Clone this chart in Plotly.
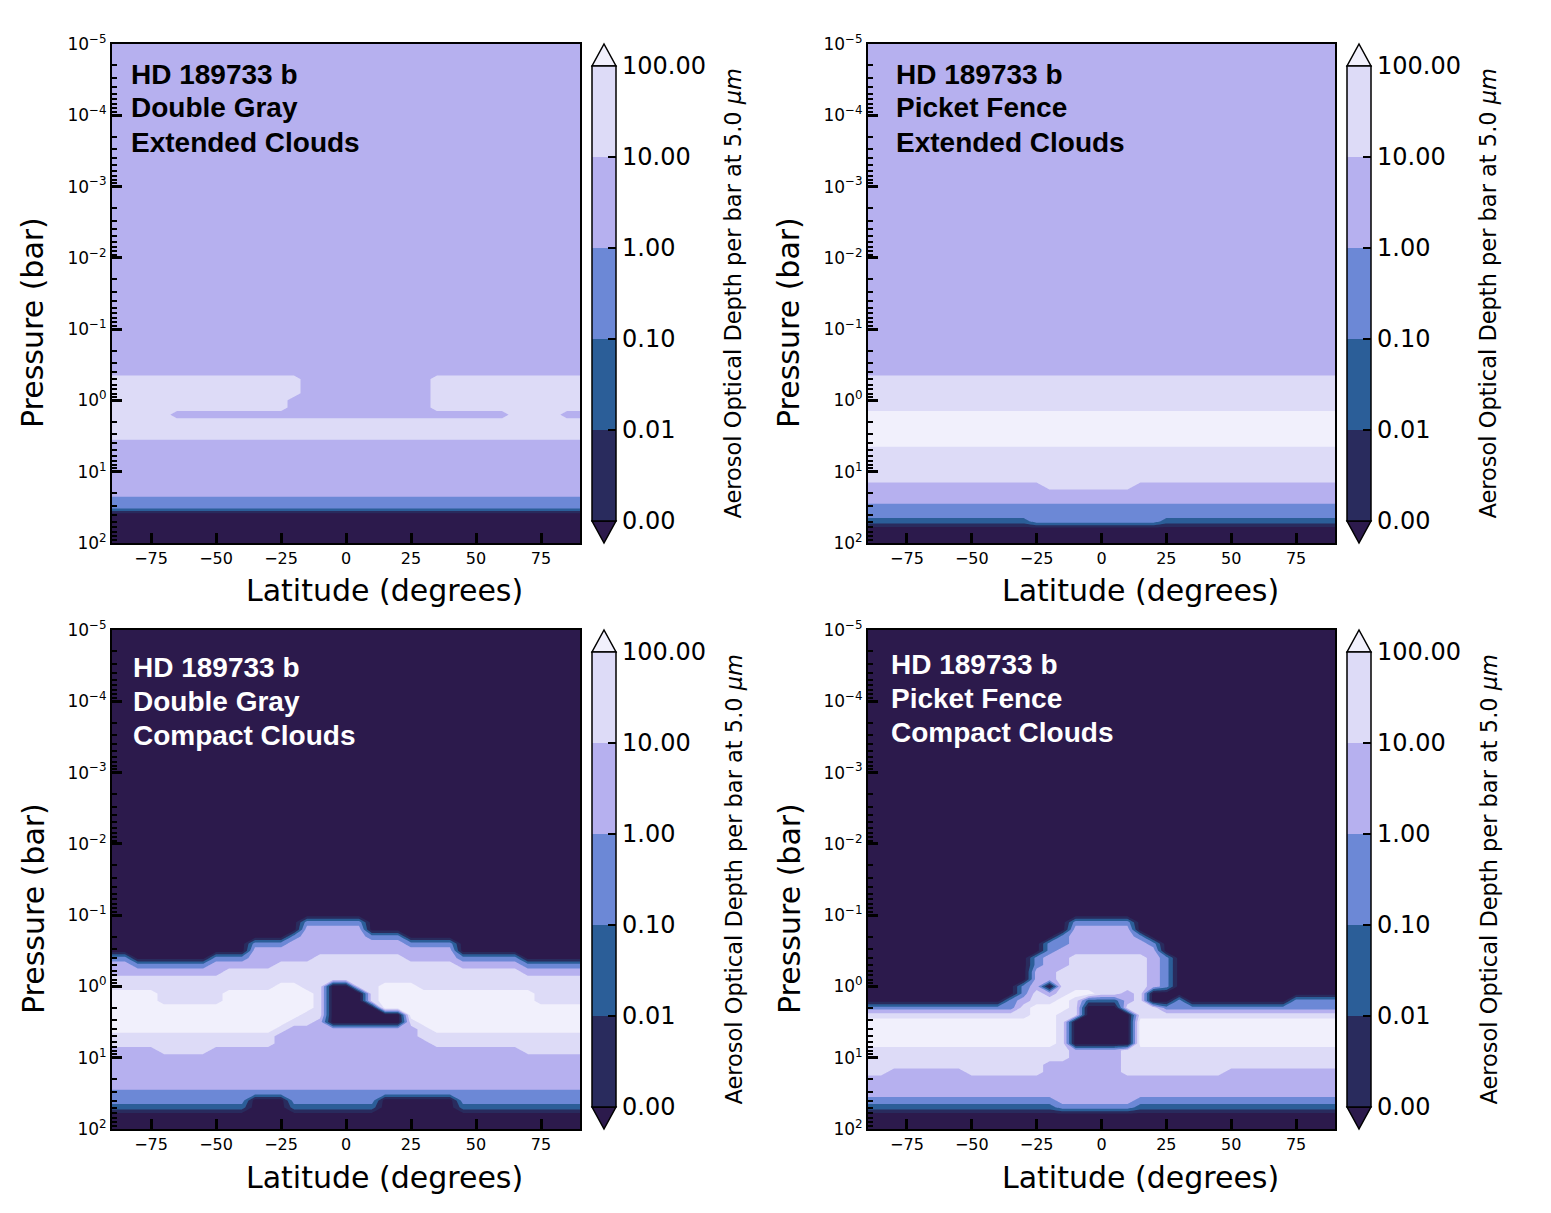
import plotly.graph_objects as go

# latitude columns (degrees) and pressure rows (log10 of bar) of the cloud grids
LAT = [-90, -85, -80, -75, -70, -65, -60, -55, -50, -45, -40, -35, -30, -25,
       -20, -15, -10, -5, 0, 5, 10, 15, 20, 25, 30, 35, 40, 45, 50, 55, 60,
       65, 70, 75, 80, 85, 90]
LOG_P = [-5.0, -4.0, -3.0, -2.0, -1.5, -1.4, -1.3, -1.2, -1.1, -1.0, -0.9,
         -0.8, -0.7, -0.6, -0.5, -0.4, -0.3, -0.2, -0.1, 0.0, 0.1, 0.2, 0.3,
         0.4, 0.5, 0.6, 0.7, 0.8, 0.9, 1.0, 1.1, 1.2, 1.3, 1.4, 1.5, 1.6, 1.7,
         1.8, 1.9, 2.0]

# each digit in a grid is the colour band;
# estimated log10 optical depth per bar for each band
BAND_LOG_TAU = [-3.5, -2.5, -1.5, -0.5, 0.5, 1.5, 2.5]
BAND_COLORS = ["#2c1a4c", "#292b5d", "#2b5e98", "#6c88d6",
               "#b6b0ef", "#dddbf7", "#f1f0fc"]
CBAR_LEVELS = [-3, -2, -1, 0, 1, 2]
CBAR_LABELS = ["0.00", "0.01", "0.10", "1.00", "10.00", "100.00"]
CBAR_TITLE = "Aerosol Optical Depth per bar at 5.0 <i>μm</i>"
P_TICKS = [1e-5, 1e-4, 1e-3, 1e-2, 1e-1, 1e0, 1e1, 1e2]
P_TICK_TEXT = ["10<sup>−5</sup>", "10<sup>−4</sup>", "10<sup>−3</sup>",
               "10<sup>−2</sup>", "10<sup>−1</sup>", "10<sup>0</sup>",
               "10<sup>1</sup>", "10<sup>2</sup>"]
LAT_TICKS = [-75, -50, -25, 0, 25, 50, 75]

# rows from 1e-5 bar (top) down to 1e2 bar, columns -90 .. 90 deg
DG_EXTENDED = [
    "444444 444444 444444 4 444444 444444 444444",  # -5
    "444444 444444 444444 4 444444 444444 444444",  # -4
    "444444 444444 444444 4 444444 444444 444444",  # -3
    "444444 444444 444444 4 444444 444444 444444",  # -2
    "444444 444444 444444 4 444444 444444 444444",  # -1.5
    "444444 444444 444444 4 444444 444444 444444",
    "444444 444444 444444 4 444444 444444 444444",
    "444444 444444 444444 4 444444 444444 444444",
    "444444 444444 444444 4 444444 444444 444444",
    "444444 444444 444444 4 444444 444444 444444",  # -1.0
    "444444 444444 444444 4 444444 444444 444444",
    "444444 444444 444444 4 444444 444444 444444",
    "444444 444444 444444 4 444444 444444 444444",
    "444444 444444 444444 4 444444 444444 444444",
    "444444 444444 444444 4 444444 444444 444444",
    "444444 444444 444444 4 444444 444444 444444",  # -0.4
    "555555 555555 555444 4 444444 555555 555555",
    "555555 555555 555444 4 444444 555555 555555",
    "555555 555555 555444 4 444444 555555 555555",
    "555555 555555 554444 4 444444 555555 555555",  # 0.0
    "555555 555555 554444 4 444444 555555 555555",
    "555554 444444 444444 4 444444 444444 555544",
    "555555 555555 555555 5 555555 555555 555555",
    "555555 555555 555555 5 555555 555555 555555",
    "555555 555555 555555 5 555555 555555 555555",  # 0.5
    "444444 444444 444444 4 444444 444444 444444",
    "444444 444444 444444 4 444444 444444 444444",
    "444444 444444 444444 4 444444 444444 444444",
    "444444 444444 444444 4 444444 444444 444444",
    "444444 444444 444444 4 444444 444444 444444",  # 1.0
    "444444 444444 444444 4 444444 444444 444444",
    "444444 444444 444444 4 444444 444444 444444",
    "444444 444444 444444 4 444444 444444 444444",
    "333333 333333 333333 3 333333 333333 333333",
    "333333 333333 333333 3 333333 333333 333333",  # 1.5
    "000000 000000 000000 0 000000 000000 000000",
    "000000 000000 000000 0 000000 000000 000000",
    "000000 000000 000000 0 000000 000000 000000",
    "000000 000000 000000 0 000000 000000 000000",
    "000000 000000 000000 0 000000 000000 000000",  # 2.0
]

PF_EXTENDED = [
    "444444 444444 444444 4 444444 444444 444444",  # -5
    "444444 444444 444444 4 444444 444444 444444",
    "444444 444444 444444 4 444444 444444 444444",
    "444444 444444 444444 4 444444 444444 444444",
    "444444 444444 444444 4 444444 444444 444444",  # -1.5
    "444444 444444 444444 4 444444 444444 444444",
    "444444 444444 444444 4 444444 444444 444444",
    "444444 444444 444444 4 444444 444444 444444",
    "444444 444444 444444 4 444444 444444 444444",
    "444444 444444 444444 4 444444 444444 444444",  # -1.0
    "444444 444444 444444 4 444444 444444 444444",
    "444444 444444 444444 4 444444 444444 444444",
    "444444 444444 444444 4 444444 444444 444444",
    "444444 444444 444444 4 444444 444444 444444",
    "444444 444444 444444 4 444444 444444 444444",
    "444444 444444 444444 4 444444 444444 444444",  # -0.4
    "555555 555555 555555 5 555555 555555 555555",
    "555555 555555 555555 5 555555 555555 555555",
    "555555 555555 555555 5 555555 555555 555555",
    "555555 555555 555555 5 555555 555555 555555",  # 0.0
    "555555 555555 555555 5 555555 555555 555555",
    "666666 666666 666666 6 666666 666666 666666",
    "666666 666666 666666 6 666666 666666 666666",
    "666666 666666 666666 6 666666 666666 666666",
    "666666 666666 666666 6 666666 666666 666666",  # 0.5
    "666666 666666 666666 6 666666 666666 666666",
    "555555 555555 555555 5 555555 555555 555555",
    "555555 555555 555555 5 555555 555555 555555",
    "555555 555555 555555 5 555555 555555 555555",
    "555555 555555 555555 5 555555 555555 555555",  # 1.0
    "555555 555555 555555 5 555555 555555 555555",
    "444444 444444 445555 5 554444 444444 444444",
    "444444 444444 444444 4 444444 444444 444444",
    "444444 444444 444444 4 444444 444444 444444",
    "333333 333333 333333 3 333333 333333 333333",  # 1.5
    "333333 333333 333333 3 333333 333333 333333",
    "222222 222222 233333 3 333322 222222 222222",
    "000000 000000 000000 0 000000 000000 000000",
    "000000 000000 000000 0 000000 000000 000000",
    "000000 000000 000000 0 000000 000000 000000",  # 2.0
]

DG_COMPACT = [
    "000000 000000 000000 0 000000 000000 000000",  # -5
    "000000 000000 000000 0 000000 000000 000000",
    "000000 000000 000000 0 000000 000000 000000",
    "000000 000000 000000 0 000000 000000 000000",
    "000000 000000 000000 0 000000 000000 000000",  # -1.5
    "000000 000000 000000 0 000000 000000 000000",
    "000000 000000 000000 0 000000 000000 000000",
    "000000 000000 000000 0 000000 000000 000000",
    "000000 000000 000000 0 000000 000000 000000",
    "000000 000000 000000 0 000000 000000 000000",  # -1.0
    "000000 000000 000333 3 300000 000000 000000",
    "000000 000000 000444 4 400000 000000 000000",
    "000000 000000 003444 4 433300 000000 000000",
    "000000 000003 334444 4 444433 330000 000000",
    "000000 000004 444444 4 444444 440000 000000",
    "330000 003334 444455 5 555544 443333 300000",  # -0.4
    "443333 334444 455555 5 555555 554444 433333",
    "444444 444555 555555 5 555555 555555 544444",
    "555555 555555 555555 5 555555 555555 555555",
    "555555 555555 566550 0 556665 555555 555555",  # 0.0
    "666655 555666 666650 0 056666 666666 665555",
    "666655 555666 666650 0 056666 666666 665555",
    "666666 666666 666650 0 006666 666666 666666",
    "666666 666666 666550 0 000066 666666 666666",
    "666666 666666 665540 0 000056 666666 666666",  # 0.5
    "666666 666666 654444 4 444445 666666 666666",
    "555555 555555 544444 4 444445 555555 555555",
    "555555 555555 544444 4 444444 555555 555555",
    "444455 554444 444444 4 444444 444444 455555",
    "444444 444444 444444 4 444444 444444 444444",  # 1.0
    "444444 444444 444444 4 444444 444444 444444",
    "444444 444444 444444 4 444444 444444 444444",
    "444444 444444 444444 4 444444 444444 444444",
    "444444 444444 444444 4 444444 444444 444444",
    "333333 333333 333333 3 333333 333333 333333",  # 1.5
    "333333 333330 003333 3 330000 003333 333333",
    "222222 222220 002222 2 220000 002222 222222",
    "000000 000000 000000 0 000000 000000 000000",
    "000000 000000 000000 0 000000 000000 000000",
    "000000 000000 000000 0 000000 000000 000000",  # 2.0
]

PF_COMPACT = [
    "000000 000000 000000 0 000000 000000 000000",  # -5
    "000000 000000 000000 0 000000 000000 000000",
    "000000 000000 000000 0 000000 000000 000000",
    "000000 000000 000000 0 000000 000000 000000",
    "000000 000000 000000 0 000000 000000 000000",  # -1.5
    "000000 000000 000000 0 000000 000000 000000",
    "000000 000000 000000 0 000000 000000 000000",
    "000000 000000 000000 0 000000 000000 000000",
    "000000 000000 000000 0 000000 000000 000000",
    "000000 000000 000000 0 000000 000000 000000",  # -1.0
    "000000 000000 000033 3 330000 000000 000000",
    "000000 000000 000044 4 440000 000000 000000",
    "000000 000000 000344 4 443000 000000 000000",
    "000000 000000 003344 4 444300 000000 000000",
    "000000 000000 003444 4 444400 000000 000000",
    "000000 000000 034455 5 555430 000000 000000",  # -0.4
    "000000 000000 034455 5 555430 000000 000000",
    "000000 000000 044555 5 555430 000000 000000",
    "000000 000000 044555 5 555430 000000 000000",
    "000000 000000 340555 5 555430 000000 000000",  # 0.0
    "000000 000000 354566 5 545000 000000 000000",
    "000000 000003 455652 2 245003 000000 003333",
    "333333 333333 566650 0 055533 333333 333333",
    "555555 555555 566550 0 005555 555555 555555",
    "666666 666666 666500 0 006666 666666 666666",  # 0.5
    "666666 666666 666500 0 006666 666666 666666",
    "666666 666666 666500 0 006666 666666 666666",
    "666666 666666 666500 0 006666 666666 666666",
    "555555 555555 555544 4 455555 555555 555555",
    "555555 555555 555544 4 455555 555555 555555",  # 1.0
    "555555 555555 554444 4 455555 555555 555555",
    "554444 445555 554444 4 455555 555444 444444",
    "444444 444444 444444 4 444444 444444 444444",
    "444444 444444 444444 4 444444 444444 444444",
    "444444 444444 444444 4 444444 444444 444444",  # 1.5
    "333333 333333 333444 4 443333 333333 333333",
    "222222 222222 222333 3 332222 222222 222222",
    "000000 000000 000000 0 000000 000000 000000",
    "000000 000000 000000 0 000000 000000 000000",
    "000000 000000 000000 0 000000 000000 000000",  # 2.0
]

PANELS = [
    (DG_EXTENDED, ["HD 189733 b", "Double Gray", "Extended Clouds"], "black"),
    (PF_EXTENDED, ["HD 189733 b", "Picket Fence", "Extended Clouds"], "black"),
    (DG_COMPACT, ["HD 189733 b", "Double Gray", "Compact Clouds"], "white"),
    (PF_COMPACT, ["HD 189733 b", "Picket Fence", "Compact Clouds"], "white"),
]

W, H = 1551, 1213
# panel boxes in pixels: left, right, top, bottom
BOXES = [(112, 580, 44, 543), (868, 1335, 44, 543),
         (112, 580, 630, 1129), (868, 1335, 630, 1129)]
LABEL_POS = [(129, 74), (894, 74), (131, 667), (889, 664)]
FONT = "DejaVu Sans"


def fx(px):
    return px / W


def fy(py):
    return 1 - py / H


pressure = [10 ** v for v in LOG_P]
fill_scale = [[k / 6, c] for k, c in enumerate(BAND_COLORS)]
bar_scale = []
for k in range(5):
    bar_scale += [[k / 5, BAND_COLORS[k + 1]], [(k + 1) / 5, BAND_COLORS[k + 1]]]
minor_vals = [m * 10 ** e for e in range(-5, 2) for m in range(2, 10)]

fig = go.Figure()
layout = {}
for i, (grid, lines, txt_color) in enumerate(PANELS):
    n = "" if i == 0 else str(i + 1)
    x0, x1, y0, y1 = BOXES[i]
    rows = [r.replace(" ", "") for r in grid]
    assert len(rows) == len(LOG_P) and all(len(r) == len(LAT) for r in rows)
    z = [[BAND_LOG_TAU[int(ch)] for ch in r] for r in rows]

    fig.add_trace(go.Contour(
        x=LAT, y=pressure, z=z, xaxis="x" + n, yaxis="y" + n,
        autocontour=False,
        contours=dict(start=-3, end=2, size=1, coloring="fill", showlines=False),
        line=dict(width=0, smoothing=0),
        colorscale=fill_scale, showscale=False, hoverinfo="skip"))

    # colour bar (carried by an invisible marker) with triangular ends
    cb_left, cb_top, cb_bot = x1 + 12, y0 + 22, y1 - 22
    fig.add_trace(go.Scatter(
        x=[LAT[0]], y=[pressure[0]], xaxis="x" + n, yaxis="y" + n,
        mode="markers", hoverinfo="skip",
        marker=dict(
            size=1, opacity=0, color=[BAND_LOG_TAU[0]],
            cmin=-3, cmax=2, colorscale=bar_scale, showscale=True,
            colorbar=dict(
                x=fx(cb_left), xanchor="left", xpad=0, ypad=0,
                y=fy((cb_top + cb_bot) / 2), yanchor="middle",
                len=cb_bot - cb_top, lenmode="pixels",
                thickness=24, thicknessmode="pixels",
                outlinewidth=1.5, outlinecolor="black",
                tickvals=CBAR_LEVELS, ticktext=CBAR_LABELS,
                ticks="inside", ticklen=8, tickwidth=2, tickcolor="black",
                tickfont=dict(size=24, family=FONT, color="black")))))
    tip = cb_left + 12
    fig.add_shape(type="path", xref="paper", yref="paper",
                  path=f"M {fx(cb_left)},{fy(cb_top)} L {fx(cb_left + 24)},{fy(cb_top)} "
                       f"L {fx(tip)},{fy(y0)} Z",
                  fillcolor=BAND_COLORS[6], line=dict(color="black", width=1.5))
    fig.add_shape(type="path", xref="paper", yref="paper",
                  path=f"M {fx(cb_left)},{fy(cb_bot)} L {fx(cb_left + 24)},{fy(cb_bot)} "
                       f"L {fx(tip)},{fy(y1)} Z",
                  fillcolor=BAND_COLORS[0], line=dict(color="black", width=1.5))
    fig.add_annotation(xref="paper", yref="paper", x=fx(cb_left + 141),
                       y=fy((cb_top + cb_bot) / 2), xanchor="center",
                       yanchor="middle", showarrow=False, textangle=-90,
                       text=CBAR_TITLE,
                       font=dict(family=FONT, size=22.5, color="black"))

    layout["xaxis" + n] = dict(
        domain=[fx(x0), fx(x1)], anchor="y" + n, range=[-90, 90],
        tickvals=LAT_TICKS, ticks="inside", ticklen=10, tickwidth=2.5,
        tickcolor="black", showline=True, linewidth=2, linecolor="black",
        mirror=True, showgrid=False, zeroline=False,
        tickfont=dict(size=16, family=FONT, color="black"))
    layout["yaxis" + n] = dict(
        domain=[fy(y1), fy(y0)], anchor="x" + n, type="log", range=[2, -5],
        tickvals=P_TICKS, ticktext=P_TICK_TEXT, ticks="inside", ticklen=10,
        tickwidth=2.5, tickcolor="black", showline=True, linewidth=2,
        linecolor="black", mirror=True, showgrid=False, zeroline=False,
        tickfont=dict(size=17, family=FONT, color="black"),
        minor=dict(tickvals=minor_vals, ticks="inside", ticklen=5,
                   tickwidth=1.5, tickcolor="black", showgrid=False))

    lx, ly = LABEL_POS[i]
    for k, line in enumerate(lines):
        fig.add_annotation(xref="paper", yref="paper", x=fx(lx), y=fy(ly + 34 * k),
                           xanchor="left", yanchor="middle", showarrow=False,
                           text="<b>" + line + "</b>",
                           font=dict(family="Liberation Sans", size=28, color=txt_color))
    fig.add_annotation(xref="paper", yref="paper", x=fx(x0 + 272), y=fy(y1 + 48),
                       xanchor="center", yanchor="middle", showarrow=False,
                       text="Latitude (degrees)",
                       font=dict(family=FONT, size=30, color="black"))
    fig.add_annotation(xref="paper", yref="paper", x=fx(x0 - 79), y=fy(y0 + 279),
                       xanchor="center", yanchor="middle", showarrow=False,
                       textangle=-90, text="Pressure (bar)",
                       font=dict(family=FONT, size=30, color="black"))

fig.update_layout(width=W, height=H,
                  margin=dict(l=0, r=0, t=0, b=0, autoexpand=False),
                  paper_bgcolor="white", plot_bgcolor="white",
                  showlegend=False, **layout)
fig.write_html("out.html", config={"displayModeBar": False},
               post_script="document.body.style.margin = '0';")
